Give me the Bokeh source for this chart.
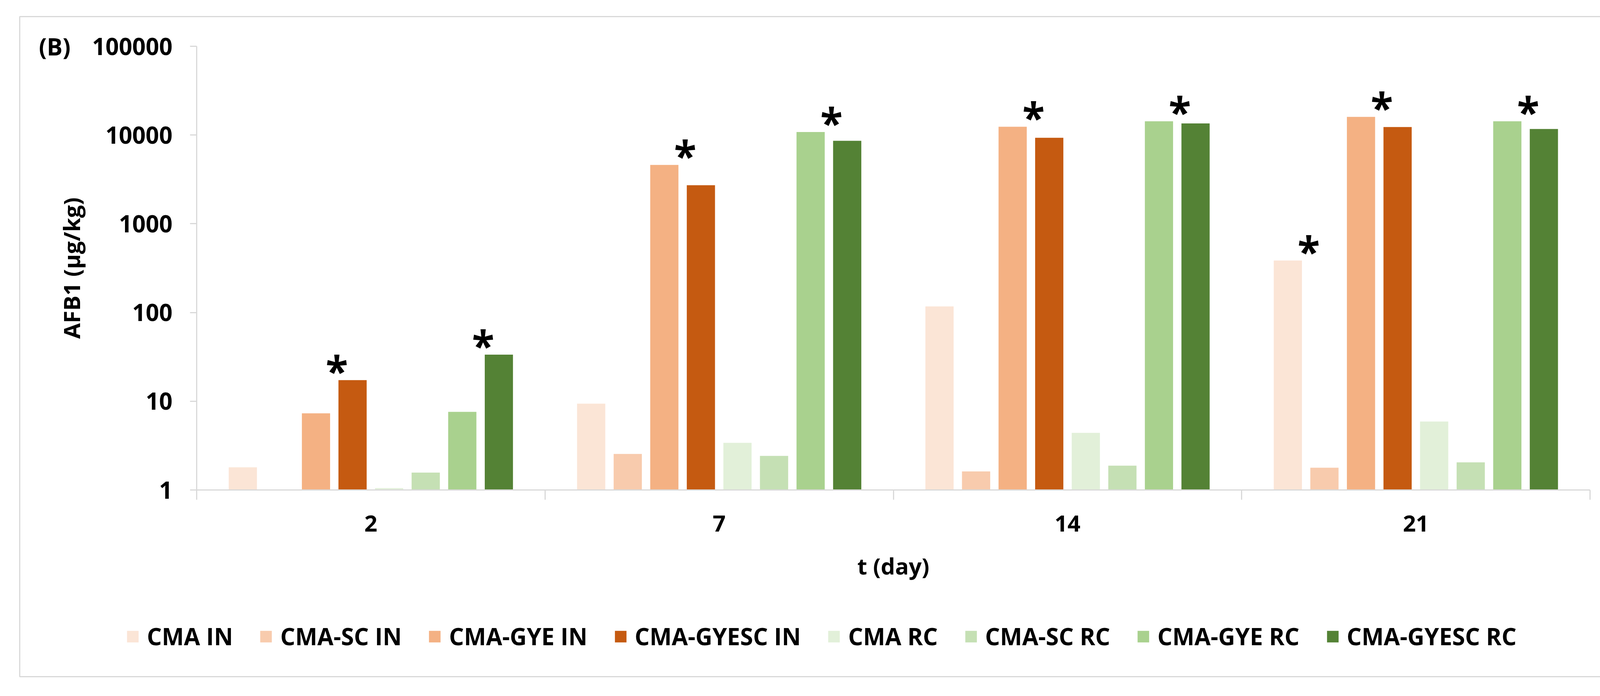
from bokeh.plotting import figure
from bokeh.models import (Range1d, FixedTicker, NumeralTickFormatter, Legend, LegendItem,
                          Label, ColumnDataSource)
from bokeh.core.properties import value
from bokeh.embed import file_html
from bokeh.resources import INLINE

# ---------------- data ----------------
days = ["2", "7", "14", "21"]
series = ["CMA IN", "CMA-SC IN", "CMA-GYE IN", "CMA-GYESC IN",
          "CMA RC", "CMA-SC RC", "CMA-GYE RC", "CMA-GYESC RC"]
cma_in = [1.8, 9.4, 117, 385]
cma_sc_in = [1.0, 2.55, 1.62, 1.78]
cma_gye_in = [7.3, 4600, 12400, 16000]
cma_gyesc_in = [17.3, 2720, 9300, 12300]
cma_rc = [1.05, 3.4, 4.4, 5.9]
cma_sc_rc = [1.57, 2.42, 1.88, 2.05]
cma_gye_rc = [7.6, 10800, 14300, 14300]
cma_gyesc_rc = [33.5, 8600, 13500, 11700]
values = [cma_in, cma_sc_in, cma_gye_in, cma_gyesc_in,
          cma_rc, cma_sc_rc, cma_gye_rc, cma_gyesc_rc]
colors = ["#FBE5D6", "#F8CBAD", "#F4B183", "#C55A11",
          "#E2F0D9", "#C5E0B4", "#A9D18E", "#548235"]
# significance marks: (day index, series index)
stars = [(0, 3), (0, 7), (1, 3), (1, 7), (2, 3), (2, 7), (3, 0), (3, 3), (3, 7)]
y_ticks = [1, 10, 100, 1000, 10000, 100000]

# ---------------- layout constants (pixels) ----------------
FONT = "Open Sans"
TXT = "#000000"
AX = "#d9d9d9"
W, H = 4200, 1766
# outer chart box (drawn as the frame outline)
BOX_L, BOX_T, BOX_R, BOX_B = 50, 42, 4140, 1732
# value axes inside the box
AX_L, AX_R = 503, 4070          # x of day axis start / end
AX_T, AX_B = 118, 1254          # y of 100000 / 1
SLOT = 0.105
BAR_W = 0.081

ppu = (AX_R - AX_L) / len(days)                 # pixels per x unit
ppd = (AX_B - AX_T) / 5.0                       # pixels per decade
x0 = -(AX_L - BOX_L) / ppu
x1 = len(days) + (BOX_R - AX_R) / ppu
y1 = 10 ** (5 + (AX_T - BOX_T) / ppd)
y0 = 10 ** (-(BOX_B - AX_B) / ppd)

p = figure(width=W, height=H, y_axis_type="log",
           x_range=Range1d(x0, x1), y_range=Range1d(y0, y1),
           output_backend="svg", toolbar_location=None,
           min_border_left=BOX_L, min_border_right=W - BOX_R,
           min_border_top=BOX_T, min_border_bottom=H - BOX_B)
p.outline_line_color = AX
p.outline_line_width = 3
p.xgrid.visible = False
p.ygrid.visible = False
p.background_fill_color = "white"
p.border_fill_color = "white"

renderers = []
for j, (name, vals, col) in enumerate(zip(series, values, colors)):
    xs = [i + 0.5 + (j - 3.5) * SLOT for i in range(len(days))]
    src = ColumnDataSource(dict(x=xs, top=vals))
    r = p.vbar(x="x", top="top", bottom=1, width=BAR_W, source=src,
               fill_color=col, line_color=None)
    renderers.append(r)

# asterisks
sx, sy = [], []
for (i, j) in stars:
    center = i + 0.5 + (j - 3.5) * SLOT
    if j == 0:
        sx.append(center + 0.06)
        sy.append(max(values[0][i], values[1][i]))
    else:
        sx.append(center - 0.045)
        sy.append(max(values[j][i], values[j - 1][i]))
p.text(x=sx, y=sy, text=["*"] * len(sx), text_font=value(FONT),
       text_font_style="bold", text_font_size="105px", text_color=TXT,
       text_align="center", text_baseline="alphabetic", y_offset=-25)

# x axis (drawn inside the box at y = 1)
xa = p.xaxis[0]
xa.fixed_location = 1
xa.bounds = (0, len(days))
xa.ticker = FixedTicker(ticks=[i + 0.5 for i in range(len(days))],
                        minor_ticks=list(range(len(days) + 1)))
xa.major_label_overrides = {i + 0.5: d for i, d in enumerate(days)}
xa.major_tick_out = 0
xa.major_tick_in = 0
xa.minor_tick_out = 25
xa.minor_tick_in = 0
xa.minor_tick_line_color = AX
xa.minor_tick_line_width = 3
xa.axis_line_color = AX
xa.axis_line_width = 3
xa.major_label_standoff = 40
xa.major_label_text_font = FONT
xa.major_label_text_font_style = "bold"
xa.major_label_text_font_size = "58px"
xa.major_label_text_color = TXT
xa.axis_label = "t (day)"
xa.axis_label_standoff = 45
xa.axis_label_text_font = FONT
xa.axis_label_text_font_style = "bold"
xa.axis_label_text_font_size = "58px"
xa.axis_label_text_color = TXT

# y axis (drawn inside the box at x = 0)
ya = p.yaxis[0]
ya.fixed_location = 0
ya.bounds = (1, 100000)
ya.ticker = FixedTicker(ticks=y_ticks, minor_ticks=[])
ya.formatter = NumeralTickFormatter(format="0")
ya.major_tick_out = 17
ya.major_tick_in = 0
ya.major_tick_line_color = AX
ya.major_tick_line_width = 3
ya.minor_tick_line_color = None
ya.axis_line_color = AX
ya.axis_line_width = 3
ya.major_label_standoff = 45
ya.major_label_text_font = FONT
ya.major_label_text_font_style = "bold"
ya.major_label_text_font_size = "60px"
ya.major_label_text_color = TXT
ya.axis_label = "AFB1 (µg/kg)"
ya.axis_label_standoff = 11
ya.axis_label_text_font = FONT
ya.axis_label_text_font_style = "bold"
ya.axis_label_text_font_size = "58px"
ya.axis_label_text_color = TXT

# panel tag "(B)" (data units, level with the top tick label)
tag_x = x0 + (99 - BOX_L) / ppu
p.add_layout(Label(x=tag_x, y=y_ticks[-1], text="(B)", text_baseline="middle",
                   text_align="left", text_font=FONT, text_font_style="bold",
                   text_font_size="60px", text_color=TXT))

# legend inside the box, bottom
items = [LegendItem(label=n, renderers=[r]) for n, r in zip(series, renderers)]
legend = Legend(items=items, orientation="horizontal", location=(271, 62),
                glyph_width=37, glyph_height=37, label_standoff=18, spacing=66,
                padding=0, margin=0, border_line_color=None, background_fill_alpha=0,
                label_text_font=FONT, label_text_font_style="bold",
                label_text_font_size="60px", label_text_color=TXT)
p.add_layout(legend)

open("out.html", "w").write(file_html(p, INLINE))
